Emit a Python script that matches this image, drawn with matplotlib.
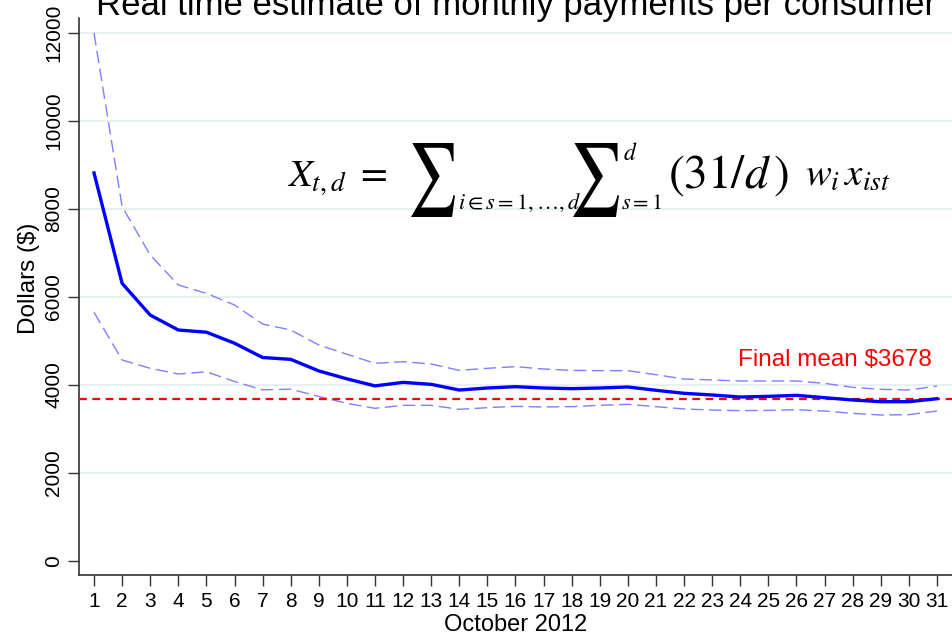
import numpy as np
import matplotlib
matplotlib.use("Agg")
import matplotlib.pyplot as plt
from matplotlib.textpath import TextPath
from matplotlib.patches import PathPatch
from matplotlib.transforms import Affine2D, IdentityTransform

# values (October 2012, days 1..31)
days = list(range(1, 32))
mean_est = [8820, 6310, 5590, 5250, 5200, 4950, 4625, 4583, 4320, 4140,
            3980, 4060, 4015, 3886, 3932, 3962, 3932, 3917, 3932, 3955,
            3880, 3811, 3773, 3727, 3742, 3765, 3712, 3659, 3621, 3621, 3689]
upper_ci = [12000, 8053, 6955, 6273, 6083, 5818, 5386, 5250, 4909, 4700,
            4492, 4530, 4477, 4333, 4379, 4417, 4364, 4333, 4326, 4326,
            4235, 4136, 4114, 4091, 4091, 4091, 4038, 3947, 3902, 3886, 3977]
lower_ci = [5652, 4568, 4379, 4250, 4300, 4080, 3890, 3905, 3740, 3583,
            3470, 3538, 3538, 3447, 3485, 3515, 3500, 3508, 3538, 3561,
            3508, 3455, 3432, 3417, 3424, 3439, 3409, 3356, 3318, 3326, 3409]
final_mean = 3678
yticks = [0, 2000, 4000, 6000, 8000, 10000, 12000]

plt.rcParams['font.family'] = ['Liberation Sans', 'DejaVu Sans']
plt.rcParams['mathtext.fontset'] = 'stix'

W, H = 953, 637
fig = plt.figure(figsize=(W / 100, H / 100), dpi=100)
ax = fig.add_axes([79 / W, 1 - 575 / H, 1 - 79 / W, (575 - 18) / H])

for v in yticks[1:]:
    ax.axhline(v, color='#e8f0f2', lw=1.6, zorder=0)

ax.plot(days, upper_ci, color='#7f7fff', lw=1.0, dashes=(9, 4), zorder=2)
ax.plot(days, lower_ci, color='#7f7fff', lw=1.0, dashes=(9, 4), zorder=2)
ax.axhline(final_mean, color='#ff0000', lw=1.6, dashes=(3.5, 2.5), zorder=3)
ax.plot(days, mean_est, color='#0000ff', lw=2.4, zorder=4)

ax.text(30.8, 4570, f"Final mean ${final_mean}", color='#ff0000',
        fontsize=17.5, ha='right', va='center')

ax.set_xlim(0.466, 31.57)
ax.set_ylim(-318, 12341)
ax.set_xticks(days)
ax.set_xticklabels([str(d) for d in days], fontsize=15)
ax.set_yticks(yticks)
ax.set_yticklabels([str(v) for v in yticks], rotation=90, va='center', fontsize=15)
ax.tick_params(axis='both', length=8, width=1.0, color='#333333', direction='out')
ax.tick_params(axis='x', pad=4)
ax.tick_params(axis='y', pad=3.5)
for s in ['top', 'right']:
    ax.spines[s].set_visible(False)
for s in ['left', 'bottom']:
    ax.spines[s].set_color('#333333')
    ax.spines[s].set_linewidth(1.2)

ax.set_xlabel("October 2012", fontsize=17)
ax.xaxis.set_label_coords((516 - 79) / (W - 79), -(614 - 575) / (575 - 18))
ax.set_ylabel("Dollars ($)", fontsize=17.5)
ax.yaxis.set_label_coords(-(79 - 40) / (W - 79), (575 - 278) / (575 - 18))

fig.text(516 / W, 1 - 15 / H, "Real time estimate of monthly payments per consumer",
         fontsize=25, ha='center', va='baseline')


def ptext(px, py, s, size, **kw):
    fig.text(px / W, 1 - py / H, s, fontsize=size, **kw)


def big_sum(x0, x1, y0, y1):
    # summation sign stretched into the pixel box x0..x1, y0..y1 (top-left origin)
    tp = TextPath((0, 0), r'$\sum$', size=50)
    b = tp.get_extents()
    tr = (Affine2D().translate(-b.x0, -b.y0)
          .scale((x1 - x0) / b.width, (y1 - y0) / b.height)
          .translate(x0, H - y1))
    fig.add_artist(PathPatch(tr.transform_path(tp), transform=IdentityTransform(),
                             facecolor='black', edgecolor='none'))


# formula, assembled piece by piece so the sums can be large
ptext(287, 186, r'$X_{t,d}\ =$', 28, ha='left', va='baseline')
big_sum(411, 455, 143, 217)
ptext(458, 209, r'$i\in s=1,\ldots,d$', 16, ha='left', va='baseline')
big_sum(573, 619, 143, 217)
ptext(623, 160, r'$d$', 17, ha='left', va='baseline')
ptext(621, 209, r'$s=1$', 16, ha='left', va='baseline')
ptext(668, 188, r'$\left(31/d\,\right)$', 34, ha='left', va='baseline')
ptext(805, 186, r'$w_i\,x_{ist}$', 28, ha='left', va='baseline')

fig.savefig('out.png', dpi=100)
